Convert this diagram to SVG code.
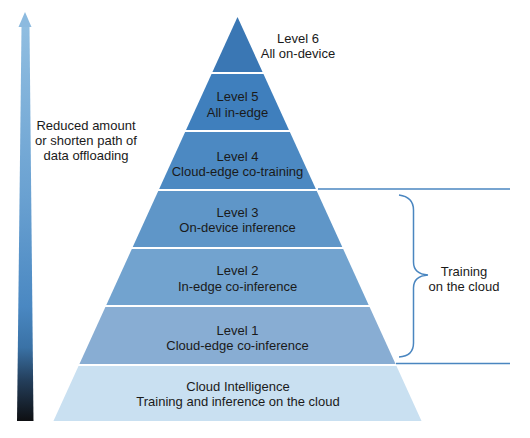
<svg xmlns="http://www.w3.org/2000/svg" width="530" height="438" viewBox="0 0 530 438">
<defs>
<linearGradient id="arrowGrad" x1="0" y1="12" x2="0" y2="421" gradientUnits="userSpaceOnUse">
<stop offset="0" stop-color="#93c0e2"/>
<stop offset="0.45" stop-color="#6aa1d1"/>
<stop offset="0.72" stop-color="#4a88c2"/>
<stop offset="0.82" stop-color="#3a72a6"/>
<stop offset="0.9" stop-color="#243f5c"/>
<stop offset="1" stop-color="#0e0f12"/>
</linearGradient>
<style>
text{font-family:"Liberation Sans",Arial,sans-serif;font-size:13px;fill:#1a1a1a;text-anchor:middle}
.conn{fill:none;stroke:#4a86c0;stroke-width:1.5}
</style>
</defs>
<rect width="530" height="438" fill="#ffffff"/>
<g id="arrow">
<polygon points="21.5,27 29.5,27 33.5,421 17,421" fill="url(#arrowGrad)"/>
<polygon points="25,12 31.5,27 18.5,27" fill="#8cbadf"/>
<text x="86" y="130">Reduced amount</text>
<text x="86" y="145">or shorten path of</text>
<text x="86" y="160">data offloading</text>
</g>
<g id="level6">
<polygon points="237.5,17 262.55,72 212.45,72" fill="#3a77b4"/>
<text x="298" y="43">Level 6</text>
<text x="298" y="58">All on-device</text>
</g>
<g id="level5">
<polygon points="211.54,74 263.46,74 288.97,130 186.03,130" fill="#3f7fbd"/>
<text x="237.5" y="101">Level 5</text>
<text x="237.5" y="116.5">All in-edge</text>
</g>
<g id="level4">
<polygon points="185.12,132 289.88,132 315.85,189 159.15,189" fill="#4c89c2"/>
<text x="237.5" y="161">Level 4</text>
<text x="237.5" y="176">Cloud-edge co-training</text>
</g>
<g id="level3">
<polygon points="158.24,191 316.76,191 342.27,247 132.73,247" fill="#5f96c8"/>
<text x="237.5" y="216.5">Level 3</text>
<text x="237.5" y="231.5">On-device inference</text>
</g>
<g id="level2">
<polygon points="131.82,249 343.18,249 368.68,305 106.32,305" fill="#72a3cf"/>
<text x="237.5" y="275">Level 2</text>
<text x="237.5" y="290.5">In-edge co-inference</text>
</g>
<g id="level1">
<polygon points="105.4,307 369.6,307 395.56,364 79.44,364" fill="#88add3"/>
<text x="237.5" y="335">Level 1</text>
<text x="237.5" y="350">Cloud-edge co-inference</text>
</g>
<g id="cloud">
<polygon points="78.53,366 396.47,366 421.52,421 53.48,421" fill="#c9e0f1"/>
<text x="238" y="390.5">Cloud Intelligence</text>
<text x="238" y="405.5">Training and inference on the cloud</text>
</g>
<g id="connectors">
<line class="conn" x1="318" y1="189" x2="510" y2="189"/>
<line class="conn" x1="396" y1="363.5" x2="510" y2="363.5"/>
<path class="conn" d="M399,195 Q413.5,197 413.5,210 L413.5,262 Q413.5,274 428,275 Q413.5,276 413.5,288 L413.5,343 Q413.5,356 399,357"/>
</g>
<g id="training">
<text x="464" y="276">Training</text>
<text x="464" y="291">on the cloud</text>
</g>
</svg>
